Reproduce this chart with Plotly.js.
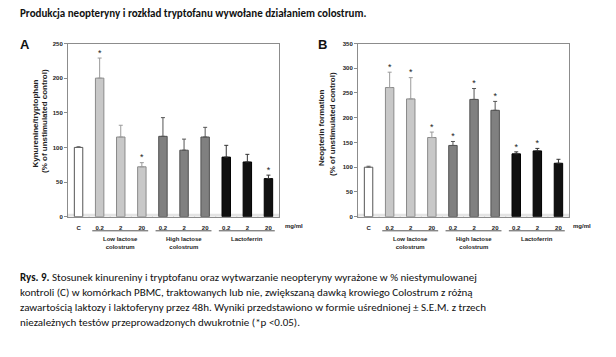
<!DOCTYPE html>
<html><head><meta charset="utf-8">
<script src="https://cdn.plot.ly/plotly-3.0.1.min.js"></script>
<style>html,body{margin:0;padding:0;background:#fff}#chart{width:616px;height:357px}</style>
</head><body><div id="chart"></div>
<script>
// ---- data ----
const categories = ['C','0.2','2','20','0.2','2','20','0.2','2','20'];
const seriesOf   = ['ctrl','low','low','low','high','high','high','lact','lact','lact'];
const groupKeys  = ['low','high','lact'];
const groupLabels = ['Low lactose<br>colostrum','High lactose<br>colostrum','Lactoferrin'];
const unitLabel = 'mg/ml';

const kynValues = [100,200,115,72,116,96,115,86,79,55];
const kynErr    = [1,29,17,6,27,16,14,17,11,5];
const kynSig    = [false,true,false,true,false,false,false,false,false,true];

const neoValues = [100,261,238,160,144,237,215,127,133,108];
const neoErr    = [2,31,43,11,8,22,18,4,5,8];
const neoSig    = [false,true,true,true,true,true,true,true,true,false];

const kynTicks = [0,50,100,150,200,250];
const neoTicks = [0,50,100,150,200,250,300,350];

const titleText = 'Produkcja neopteryny i rozkład tryptofanu wywołane działaniem colostrum.';
const captionLines = [
  '<b>Rys. 9.</b> Stosunek kinureniny i tryptofanu oraz wytwarzanie neopteryny wyrażone w % niestymulowanej',
  'kontroli (C) w komórkach PBMC, traktowanych lub nie, zwiększaną dawką krowiego Colostrum z różną',
  'zawartością laktozy i laktoferyny przez 48h. Wyniki przedstawiono w formie uśrednionej ± S.E.M. z trzech',
  'niezależnych testów przeprowadzonych dwukrotnie (*p <0.05).'
];

// ---- styling ----
const W = 616, H = 357;
const styles = {
  ctrl: {fill:'#ffffff', line:'#555555', err:'#666666'},
  low:  {fill:'#c8c8c8', line:'#8a8a8a', err:'#9a9a9a'},
  high: {fill:'#808080', line:'#505050', err:'#555555'},
  lact: {fill:'#111111', line:'#000000', err:'#333333'}
};
const axFont = {family:'Liberation Sans, Arial, sans-serif', size:6, color:'#222', weight:700};
const capFont = 'Carlito, Liberation Sans Narrow, Open Sans, sans-serif';

function px2x(p){return p/W;}
function px2y(p){return 1 - p/H;}

const idx = categories.map((c,i)=>i);
const traces = [];
function addPanel(xr, yr, vals, errs, sig){
  ['ctrl','low','high','lact'].forEach(k=>{
    const ii = idx.filter(i=>seriesOf[i]===k);
    traces.push({type:'bar', xaxis:xr, yaxis:yr, x:ii, y:ii.map(i=>vals[i]), width:0.4,
      marker:{color:styles[k].fill, line:{color:styles[k].line, width:1}},
      error_y:{type:'data', symmetric:false, array:ii.map(i=>errs[i]), arrayminus:ii.map(()=>0),
        color:styles[k].err, thickness:1, width:2},
      hoverinfo:'skip'});
  });
  const si = idx.filter(i=>sig[i]);
  traces.push({type:'scatter', mode:'text', xaxis:xr, yaxis:yr, x:si, y:si.map(i=>vals[i]+errs[i]),
    text:si.map(()=>'*'), textposition:'top center', cliponaxis:false,
    textfont:{family:'Liberation Sans, Arial', size:9, color:'#222'}, hoverinfo:'skip'});
}
addPanel('x','y',kynValues,kynErr,kynSig);
addPanel('x2','y2',neoValues,neoErr,neoSig);

const xDomA = [px2x(68), px2x(279)];
const xDomB = [px2x(358), px2x(569)];
const yDom = [px2y(216.7), px2y(43.5)];

function xaxis(dom, anchor){
  return {domain:dom, anchor:anchor, range:[-0.5, categories.length-0.5], tickmode:'array',
    tickvals:idx, ticktext:categories, ticks:'', ticklabelstandoff:5, showgrid:false, zeroline:false,
    showline:true, linecolor:'#8c8c8c', linewidth:1, mirror:true, tickfont:axFont, fixedrange:true};
}
function yaxis(ticks, anchor){
  return {domain:yDom, anchor:anchor, range:[0, ticks[ticks.length-1]], tickmode:'array', tickvals:ticks,
    ticks:'outside', ticklen:3, tickcolor:'#8c8c8c', showgrid:false, zeroline:false,
    showline:true, linecolor:'#8c8c8c', linewidth:1, mirror:true, tickfont:axFont, fixedrange:true};
}

const shapes = [];
const annotations = [];
function note(xp, yp, text, font, extra){
  return Object.assign({xref:'paper', yref:'paper', x:px2x(xp), y:px2y(yp), xanchor:'center', yanchor:'middle',
    showarrow:false, text:text, font:font}, extra||{});
}
[['x','y',283],['x2','y2',571]].forEach(([xr,yr,ux])=>{
  shapes.push({type:'rect', xref:xr, yref:yr, x0:-0.5, x1:categories.length-0.5, ysizemode:'pixel', yanchor:0, y0:0, y1:3,
    fillcolor:'#e4e4e4', line:{width:0}, layer:'below'});
  for(let i=0;i<=categories.length;i++){
    shapes.push({type:'line', xref:xr, yref:yr, x0:i-0.5, x1:i-0.5, ysizemode:'pixel', yanchor:0, y0:0, y1:-3,
      line:{color:'#8c8c8c', width:1}});
  }
  groupKeys.forEach((g,gi)=>{
    const ii = idx.filter(i=>seriesOf[i]===g);
    const a = ii[0], b = ii[ii.length-1];
    shapes.push({type:'line', xref:xr, yref:'paper', x0:a-0.35, x1:b+0.3, y0:px2y(230.8), y1:px2y(230.8),
      line:{color:'#555', width:1}});
    annotations.push({xref:xr, yref:'paper', x:(a+b)/2, y:px2y(234), xanchor:'center', yanchor:'top', showarrow:false,
      text:groupLabels[gi], font:axFont});
  });
  annotations.push(note(ux, 226, unitLabel, axFont, {xanchor:'left'}));
});

const ytFont = {family:'Liberation Sans, Arial, sans-serif', size:8, color:'#222', weight:700};
const letterFont = {family:'Liberation Sans, Arial', size:13, color:'#111', weight:700};
annotations.push(
  note(34.5, 124, 'Kynurenine/tryptophan', ytFont, {textangle:-90}),
  note(44, 121, '(% of unstimulated control)', ytFont, {textangle:-90}),
  note(321, 128, 'Neopterin formation', ytFont, {textangle:-90}),
  note(332, 124, '(% of unstimulated control)', ytFont, {textangle:-90}),
  note(25, 44.5, 'A', letterFont),
  note(322, 44.5, 'B', letterFont),
  note(18, 14, '<b>'+titleText+'</b>', {family:capFont, size:11, color:'#111'}, {xanchor:'left'})
);
captionLines.forEach((t,i)=>{
  annotations.push(note(18, 277+15*i, t, {family:capFont, size:11, color:'#111'}, {xanchor:'left'}));
});

const layout = {
  width:W, height:H, margin:{l:0,r:0,t:0,b:0}, paper_bgcolor:'#fff', plot_bgcolor:'#fff', showlegend:false,
  bargap:0, barmode:'overlay',
  xaxis:xaxis(xDomA,'y'), yaxis:yaxis(kynTicks,'x'),
  xaxis2:xaxis(xDomB,'y2'), yaxis2:yaxis(neoTicks,'x2'),
  shapes:shapes, annotations:annotations
};
Plotly.newPlot('chart', traces, layout, {staticPlot:true, displayModeBar:false});
</script></body></html>
